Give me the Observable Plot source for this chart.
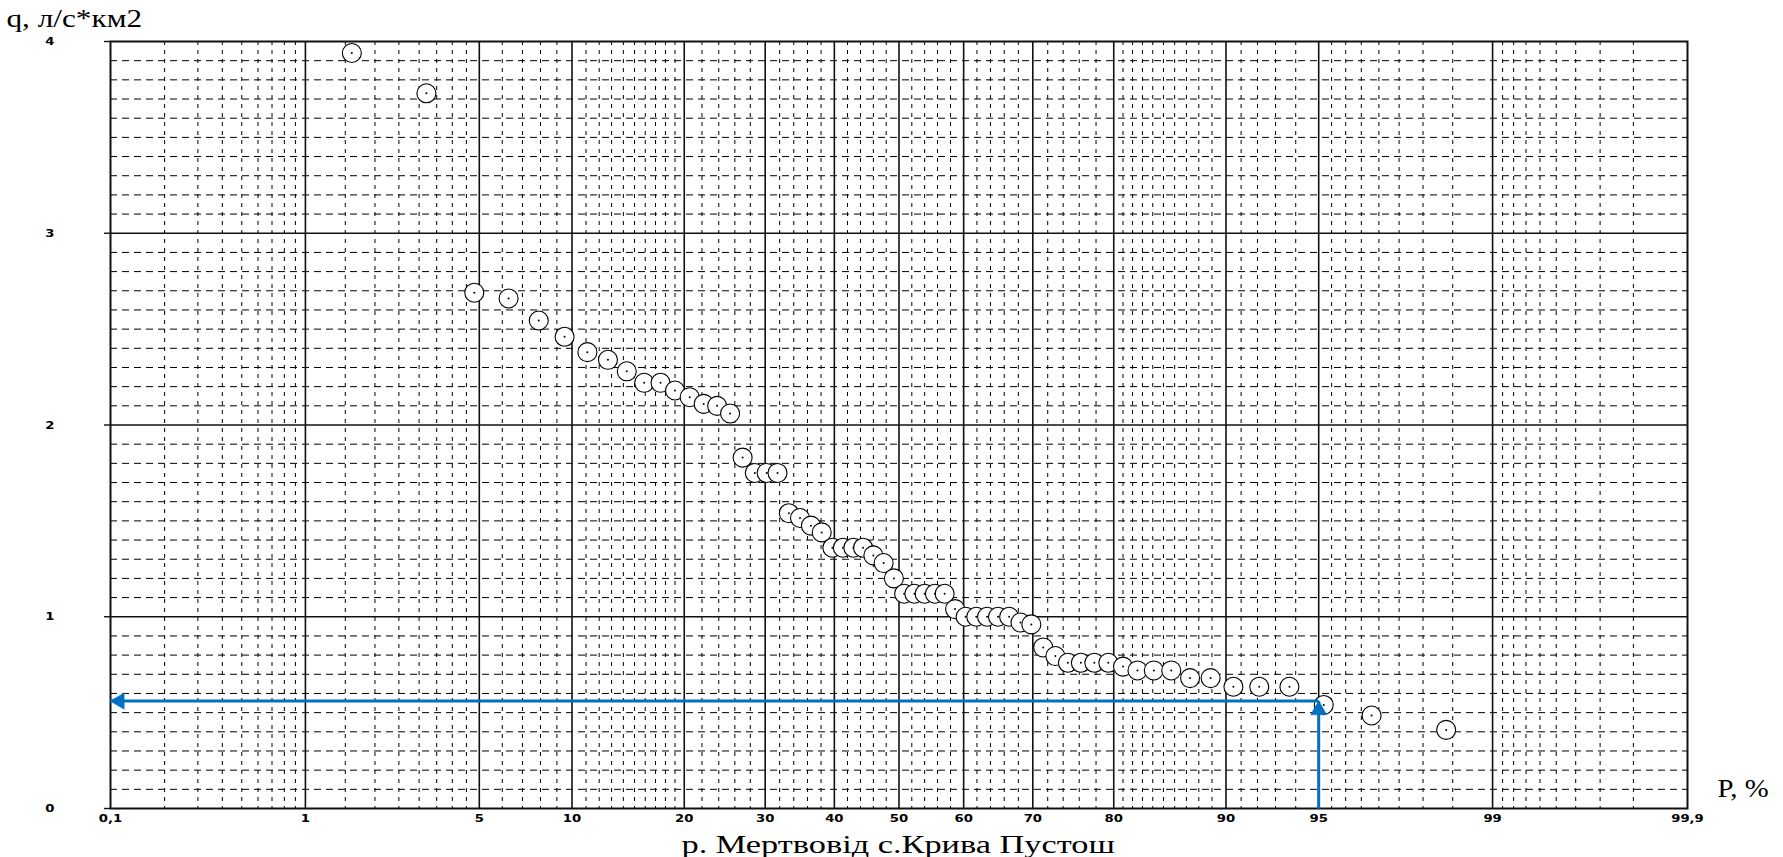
<!DOCTYPE html>
<html>
<head>
<meta charset="utf-8">
<script src="https://cdn.jsdelivr.net/npm/d3@7"></script>
<script src="https://cdn.jsdelivr.net/npm/@observablehq/plot@0.6"></script>
<style>
  html, body { margin: 0; padding: 0; background: #fff; }
  #caption {
    width: 1783px; box-sizing: border-box; padding-left: 110px; padding-right: 96px;
    text-align: center; font-family: "Liberation Serif", serif; font-size: 26px;
    height: 25px; line-height: 25px; color: #000; overflow: visible;
  }
  #caption span { display: inline-block; transform: scaleX(1.32); transform-origin: 50% 50%; }
</style>
</head>
<body>
<div id="chart"></div>
<div id="caption"><span>р. Мертвовід с.Крива Пустош</span></div>
<script>
// ---- data ----
const pValues = [1.6, 3.2, 4.8, 6.3, 7.9, 9.5, 11.1, 12.7, 14.3, 15.9, 17.5, 19.0, 20.6, 22.2, 23.8, 25.4,
  27.0, 28.6, 30.2, 31.7, 33.3, 34.9, 36.5, 38.1, 39.7, 41.3, 42.9, 44.4, 46.0, 47.6, 49.2, 50.8,
  52.4, 54.0, 55.6, 57.1, 58.7, 60.3, 61.9, 63.5, 65.1, 66.7, 68.3, 69.8, 71.4, 73.0, 74.6, 76.2,
  77.8, 79.4, 81.0, 82.5, 84.1, 85.7, 87.3, 88.9, 90.5, 92.1, 93.7, 95.2, 96.8, 98.4];
const qValues = [3.94, 3.73, 2.69, 2.66, 2.545, 2.46, 2.38, 2.34, 2.28, 2.22, 2.22, 2.18, 2.145, 2.11, 2.10, 2.06,
  1.83, 1.75, 1.75, 1.75, 1.54, 1.515, 1.475, 1.44, 1.36, 1.36, 1.36, 1.36, 1.32, 1.28, 1.20, 1.12,
  1.12, 1.12, 1.12, 1.12, 1.04, 1.00, 1.00, 1.00, 1.00, 1.00, 0.97, 0.96, 0.84, 0.795, 0.76, 0.76,
  0.76, 0.76, 0.74, 0.72, 0.72, 0.72, 0.68, 0.68, 0.635, 0.635, 0.635, 0.54, 0.485, 0.41];

const majorP = [0.1, 1, 5, 10, 20, 30, 40, 50, 60, 70, 80, 90, 95, 99, 99.9];
const majorLabels = ["0,1", "1", "5", "10", "20", "30", "40", "50", "60", "70", "80", "90", "95", "99", "99,9"];
const minorP = [0.2, 0.3, 0.4, 0.5, 0.6, 0.7, 0.8, 0.9,
  1.5, 2, 2.5, 3, 3.5, 4, 4.5,
  6, 7, 8, 9,
  11, 12, 13, 14, 15, 16, 17, 18, 19,
  22, 24, 26, 28, 32, 34, 36, 38, 42, 44, 46, 48, 52, 54, 56, 58, 62, 64, 66, 68, 72, 74, 76, 78,
  81, 82, 83, 84, 85, 86, 87, 88, 89,
  91, 92, 93, 94,
  95.5, 96, 96.5, 97, 97.5, 98, 98.5,
  99.1, 99.2, 99.3, 99.4, 99.5, 99.6, 99.7, 99.8];
const yMajor = [0, 1, 2, 3, 4];
const yMinor = [0.1, 0.2, 0.3, 0.4, 0.5, 0.6, 0.7, 0.8, 0.9,
  1.1, 1.2, 1.3, 1.4, 1.5, 1.6, 1.7, 1.8, 1.9,
  2.1, 2.2, 2.3, 2.4, 2.5, 2.6, 2.7, 2.8, 2.9,
  3.1, 3.2, 3.3, 3.4, 3.5, 3.6, 3.7, 3.8, 3.9];
const arrowP = [95];
const arrowQ = [0.56];

const yTitle = "q, л/с*км2";
const xTitle = "P, %";

// ---- probability-paper transform (inverse normal CDF, Acklam) ----
function probit(p) {
  const a = [-3.969683028665376e+01, 2.209460984245205e+02, -2.759285104469687e+02, 1.383577518672690e+02, -3.066479806614716e+01, 2.506628277459239e+00];
  const b = [-5.447609879822406e+01, 1.615858368580409e+02, -1.556989798598866e+02, 6.680131188771972e+01, -1.328068155288572e+01];
  const c = [-7.784894002430293e-03, -3.223964580411365e-01, -2.400758277161838e+00, -2.549732539343734e+00, 4.374664141464968e+00, 2.938163982698783e+00];
  const d = [7.784695709041462e-03, 3.224671290700398e-01, 2.445134137142996e+00, 3.754408661907416e+00];
  const plow = 0.02425, phigh = 1 - plow;
  let q, r;
  if (p < plow) {
    q = Math.sqrt(-2 * Math.log(p));
    return (((((c[0]*q+c[1])*q+c[2])*q+c[3])*q+c[4])*q+c[5]) / ((((d[0]*q+d[1])*q+d[2])*q+d[3])*q+1);
  } else if (p <= phigh) {
    q = p - 0.5; r = q * q;
    return (((((a[0]*r+a[1])*r+a[2])*r+a[3])*r+a[4])*r+a[5])*q / (((((b[0]*r+b[1])*r+b[2])*r+b[3])*r+b[4])*r+1);
  } else {
    q = Math.sqrt(-2 * Math.log(1 - p));
    return -(((((c[0]*q+c[1])*q+c[2])*q+c[3])*q+c[4])*q+c[5]) / ((((d[0]*q+d[1])*q+d[2])*q+d[3])*q+1);
  }
}
const z = (P) => probit(P / 100);

const points = pValues.map((p, i) => ({p, q: qValues[i]}));
const majorTicks = majorP.map((p, i) => ({p, label: majorLabels[i]}));
const innerMajorP = majorP.slice(1, -1);
const arrows = arrowP.map((p, i) => ({p, q: arrowQ[i], left: majorP[0]}));

const blue = "#0070C0";
const serif = "'Liberation Serif', 'Times New Roman', serif";

const chart = Plot.plot({
  width: 1783,
  height: 832,
  marginLeft: 110,
  marginRight: 96,
  marginTop: 41,
  marginBottom: 24,
  style: {fontFamily: "'DejaVu Sans', sans-serif", fontSize: "11px", background: "#fff", color: "#000", overflow: "visible"},
  x: {type: "linear", domain: [z(majorP[0]), z(majorP[majorP.length - 1])], axis: null},
  y: {domain: [0, 4], axis: null},
  marks: [
    // minor grid
    Plot.ruleY(yMinor, {stroke: "#000", strokeWidth: 1, strokeDasharray: "7,5"}),
    Plot.ruleX(minorP, {x: (p) => z(p), stroke: "#000", strokeWidth: 1, strokeDasharray: "4,5"}),
    // major grid
    Plot.ruleY(yMajor.slice(1, -1), {stroke: "#111", strokeWidth: 1.4}),
    Plot.ruleX(innerMajorP, {x: (p) => z(p), stroke: "#111", strokeWidth: 1.6}),
    Plot.frame({stroke: "#111", strokeWidth: 2}),
    // y axis
    Plot.axisY(yMajor, {label: null, tickFormat: (d) => String(d), tickSize: 6, tickPadding: 50, fontSize: 11, fontWeight: "bold", stroke: "#111", strokeWidth: 1.4}),
    // x tick labels
    Plot.text(majorTicks, {x: (d) => z(d.p), text: "label", frameAnchor: "bottom", dy: 13, fontSize: 11, fontWeight: "bold", fill: "#000"}),
    // data points
    Plot.dot(points, {x: (d) => z(d.p), y: "q", r: 9.5, stroke: "#000", strokeWidth: 1.1, fill: "#fff"}),
    Plot.dot(points, {x: (d) => z(d.p), y: "q", r: 1, fill: "#000"}),
    // blue guide arrows
    Plot.link(arrows, {x1: (d) => z(d.p), y1: 0, x2: (d) => z(d.p), y2: "q", stroke: blue, strokeWidth: 3}),
    Plot.link(arrows, {x1: (d) => z(d.p), y1: "q", x2: (d) => z(d.left), y2: "q", stroke: blue, strokeWidth: 3}),
    Plot.dot(arrows, {x: (d) => z(d.p), y: "q", symbol: "triangle", r: 6, fill: blue, stroke: blue, strokeWidth: 0.5, dy: 9}),
    Plot.dot(arrows, {x: (d) => z(d.left), y: "q", symbol: "triangle", r: 6, fill: blue, stroke: blue, strokeWidth: 0.5, dx: 9, rotate: -90}),
    // axis titles
    Plot.text([yTitle], {frameAnchor: "top-left", dx: -104, dy: -15, textAnchor: "start", lineAnchor: "bottom", fontFamily: serif, fontSize: 25, fill: "#000"}),
    Plot.text([xTitle], {frameAnchor: "bottom-right", dx: 30, dy: -12, textAnchor: "start", lineAnchor: "bottom", fontFamily: serif, fontSize: 25, fill: "#000"})
  ]
});
// the reference's texts are horizontally stretched bitmaps
const stretch = new Map([[yTitle, 1.25], [xTitle, 1.15]]);
majorLabels.forEach((l) => stretch.set(l, 1.2));
yMajor.forEach((v) => stretch.set(String(v), 1.2));
d3.select(chart).selectAll("text").each(function () {
  const s = stretch.get(this.textContent);
  if (s) {
    const tr = this.getAttribute("transform") || "";
    this.setAttribute("transform", (tr + ` scale(${s},1)`).trim());
  }
});
document.getElementById("chart").appendChild(chart);
</script>
</body>
</html>
